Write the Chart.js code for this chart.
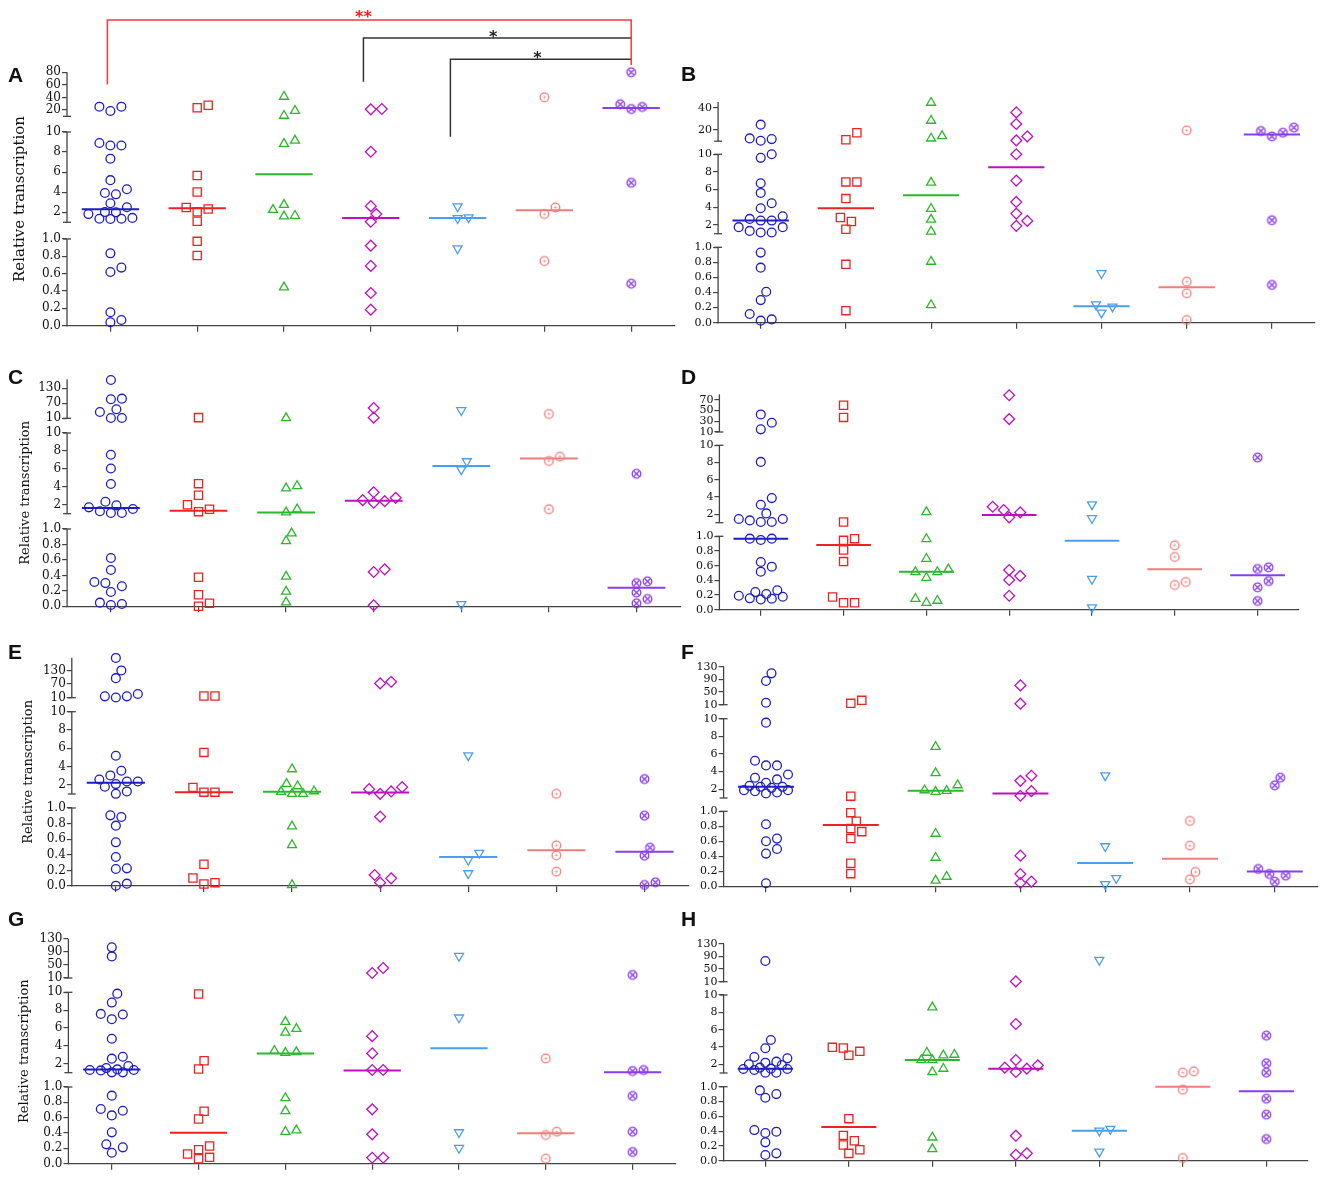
<!DOCTYPE html>
<html><head><meta charset="utf-8">
<script src="https://cdn.jsdelivr.net/npm/chart.js@4.4.0/dist/chart.umd.min.js"></script>
<style>
html,body{margin:0;padding:0;background:#fff;}
#wrap{position:relative;width:1325px;height:1177px;overflow:hidden;background:#fff;}
#wrap canvas{position:absolute;}
.lbl{position:absolute;font:bold 21px "Liberation Sans",Arial,sans-serif;line-height:21px;color:#111;}
</style></head><body><div id="wrap"></div>
<script>
// ---------- categories & tick labels ----------
const groups = ['Group 1','Group 2','Group 3','Group 4','Group 5','Group 6','Group 7'];
const bottomTicks = [0, 0.2, 0.4, 0.6, 0.8, 1.0];
const bottomTickLabels = ['0.0','0.2','0.4','0.6','0.8','1.0'];
const middleTicks = [2, 4, 6, 8, 10];
const middleTickLabels = ['2','4','6','8','10'];
const topTicksA = [20, 40, 60, 80];
const topTicksB = [20, 40];
const topTicksC = [10, 70, 130];
const topTicksD = [10, 30, 50, 70];
const topTicksE = [10, 70, 130];
const topTicksF = [10, 50, 90, 130];
const topTicksG = [10, 50, 90, 130];
const topTicksH = [10, 50, 90, 130];

// ---------- values (one list per group) and medians ----------
const valuesA = [
 [25.3,18.4,25.3,8.65,8.65,8.9,7.34,5.2,3.92,4.29,3.79,2.9,2.5,1.99,2.02,1.35,1.44,1.82,1.35,1.33,0.835,0.67,0.62,0.155,0.04,0.066],
 [23.7,27.5,5.67,4.02,2.48,2.32,2.05,1.1,0.973,0.81],
 [41.3,18.9,11,8.82,9.15,2.74,2.25,1.66,1.6,0.443],
 [21.6,21.1,8.03,2.61,1.82,1.06,0.923,0.69,0.377,0.185],
 [2.57,1.49,1.4,0.89],
 [40.3,2.48,1.82,0.746],
 [80,29.1,21.6,24.8,4.94,0.484]];
const medianA = [2.29,2.41,5.8,1.43,1.43,2.2,23.2];

const valuesB = [
 [24.8,11.9,10.4,12.5,9.6,10.0,6.72,5.62,4.45,3.89,2.98,2.49,2.49,2.68,1.74,1.74,1.32,1.13,1.13,0.93,0.73,0.41,0.30,0.115,0.027,0.044],
 [11.3,17.6,6.87,6.87,4.98,2.83,2.38,1.51,0.774,0.16],
 [44.5,28.4,14.6,12.5,6.8,3.83,2.6,1.25,0.81,0.235],
 [35.8,25.4,14.3,10.7,10.0,7.02,4.6,3.28,2.45,1.89],
 [0.655,0.243,0.212,0.133],
 [19.7,0.544,0.39,0.035],
 [19.1,14.3,17.6,22.1,2.53,0.5]];
const medianB = [2.49,3.89,5.36,8.53,0.217,0.47,16.1];

const valuesC = [
 [163,86,88.7,46,35.3,11,11,7.58,6.04,4.31,2.33,1.93,1.71,1.52,1.27,1.08,1.08,0.625,0.47,0.315,0.30,0.26,0.185,0.047,0.017,0.03],
 [12.7,4.35,3.06,2.0,1.49,1.23,0.375,0.15,0.04,0.0],
 [11,3.83,4.09,1.49,1.16,0.944,0.845,0.384,0.19,0.052],
 [51.3,12.7,3.39,2.51,2.22,2.40,2.77,0.478,0.444,0.013],
 [42,6.84,5.93,0.026],
 [27.3,7.36,6.88,1.49],
 [5.45,0.323,0.30,0.177,0.095,0.039]];
const medianC = [1.63,1.34,1.12,2.44,6.33,7.17,0.241];

const valuesD = [
 [42.6,27.2,14.9,8.07,3.86,3.09,2.08,1.43,1.08,1.08,1.27,1.43,0.968,0.95,0.968,0.65,0.586,0.518,0.24,0.214,0.264,0.19,0.155,0.14,0.15,0.177],
 [59.8,37.1,1.08,0.968,0.945,0.814,0.655,0.173,0.095,0.095],
 [2.24,0.964,0.695,0.55,0.514,0.514,0.436,0.15,0.095,0.123],
 [78.3,34,2.86,2.47,2.2,1.62,0.54,0.46,0.405,0.19],
 [3.13,1.51,0.418,0.03],
 [0.877,0.718,0.336,0.377],
 [8.57,0.555,0.577,0.39,0.305,0.118]];
const medianD = [0.968,0.882,0.518,1.89,0.94,0.55,0.468];

const valuesE = [
 [185,130,96,15.9,11,15.9,26.1,5.18,3.54,2.59,2.37,2.37,2.08,3.03,1.79,1.28,1.02,0.906,0.885,0.774,0.56,0.372,0.226,0.218,0.004,0.03],
 [17.3,17.3,5.55,1.72,1.2,1.2,0.278,0.103,0.026,0.043],
 [3.72,2.12,1.86,1.31,1.02,1.02,1.24,0.765,0.526,0.013],
 [80,73,1.53,1.02,1.28,1.75,0.889,0.141,0.043,0.098],
 [5.22,0.423,0.333,0.162],
 [1.02,0.521,0.393,0.184],
 [2.63,0.902,0.491,0.389,0.013,0.047]];
const medianE = [2.23,1.2,1.24,1.17,0.372,0.457,0.44];

const valuesF = [
 [109,85,16.3,9.55,5.23,4.7,4.7,3.67,3.3,3.11,2.73,2.38,2.27,2.15,2.27,1.89,1.78,1.52,1.63,1.89,0.827,0.636,0.6,0.498,0.436,0.04],
 [14.2,23.7,1.21,0.982,0.867,0.769,0.729,0.636,0.307,0.169],
 [6.82,3.83,2.46,1.82,1.7,1.89,0.702,0.382,0.076,0.129],
 [71,13.2,3.52,2.95,1.78,1.25,0.409,0.164,0.044,0.062],
 [3.56,0.533,0.107,0.027],
 [0.871,0.542,0.191,0.093],
 [3.3,2.43,0.231,0.164,0.142,0.062]];
const medianF = [2.27,0.818,1.82,1.52,0.311,0.369,0.196];

const valuesG = [
 [103.6,76,9.85,8.85,7.51,7.58,6.99,4.8,2.78,2.57,1.74,1.3,1.3,1.52,1.37,1.26,1.04,1.04,0.887,0.713,0.691,0.63,0.409,0.252,0.213,0.143],
 [9.81,2.33,1.41,0.683,0.583,0.23,0.126,0.183,0.065,0.083],
 [6.69,5.91,5.5,3.31,3.23,3.46,0.857,0.687,0.417,0.435],
 [25.3,40.5,5.09,3.16,1.3,1.3,0.709,0.383,0.078,0.078],
 [77,7.17,0.409,0.204],
 [2.6,0.417,0.374,0.065],
 [19.2,1.3,1.19,0.883,0.417,0.152]];
const medianG = [1.37,0.404,3.16,1.26,3.75,0.396,1.04];

const valuesH = [
 [75.3,4.81,3.85,2.85,2.69,2.31,2.0,2.19,1.92,1.46,1.35,1.62,1.5,1.46,1.04,1.04,0.95,0.9,0.851,0.414,0.392,0.374,0.248,0.077,0.099],
 [3.96,3.5,3.04,3.88,0.568,0.342,0.27,0.212,0.149,0.099],
 [8.58,3.12,2.5,2.5,3.04,3.35,1.12,1.5,0.315,0.158],
 [11,6.65,2.5,1.62,1.5,1.88,1.12,0.338,0.081,0.099],
 [78.4,0.428,0.405,0.122],
 [1.04,1.19,0.959,0.036],
 [5.31,2.12,1.04,0.838,0.622,0.293]];
const medianH = [1.5,0.455,2.5,1.5,0.405,1.0,0.937];

// ---------- layout (positions / styles) ----------
const PANELS = [
 {id:'A', vals:valuesA, med:medianA, top:topTicksA, topMax:80,  L:67,    d:86.8, px:[325.7,239,222.3,132,116.3,72.3],   cx:0,   title:{size:15,x:20},   letter:[8,63.7]},
 {id:'B', vals:valuesB, med:medianB, top:topTicksB, topMax:45,  L:718.1, d:85.2, px:[322.7,247.3,233.7,154.3,141.2,102.1], cx:660, title:null, letter:[681,62.7]},
 {id:'C', vals:valuesC, med:medianC, top:topTicksC, topMax:166, L:67.1,  d:87.6, px:[606.3,529,513.7,433,418.3,379.3],  cx:0,   title:{size:13,x:25.6}, letter:[8,366.4]},
 {id:'D', vals:valuesD, med:medianD, top:topTicksD, topMax:80,  L:719.4, d:82.8, px:[609.7,536.3,522.7,445.3,432,394.3], cx:660, title:null, letter:[681,366.4]},
 {id:'E', vals:valuesE, med:medianE, top:topTicksE, topMax:186, L:71.8,  d:88.1, px:[886,808,794,711.7,697.7,657.7],    cx:0,   title:{size:13,x:29},   letter:[8,641.4]},
 {id:'F', vals:valuesF, med:medianF, top:topTicksF, topMax:130, L:723.6, d:84.8, px:[886.3,811.3,798,718.7,704.7,666.7], cx:660, title:null, letter:[681,640.7]},
 {id:'G', vals:valuesG, med:medianG, top:topTicksG, topMax:130, L:68.4,  d:86.8, px:[1163.7,1087,1072.7,992.3,978,938.7], cx:0, title:{size:13,x:24.8}, letter:[8,907.7]},
 {id:'H', vals:valuesH, med:medianH, top:topTicksH, topMax:130, L:723.6, d:83.5, px:[1160.7,1086.7,1073,995,981.7,943.7], cx:660, title:null, letter:[681,907.7]},
];
const STYLES = [
 {color:'#1c1cc8', style:'circle',  r:4.4},
 {color:'#ee2222', style:'rect',    r:5.8},
 {color:'#2cb82c', style:'triangle',r:5.2},
 {color:'#bf10bf', style:'rectRot', r:5.4},
 {color:'#4a9ef0', style:'triangle',r:5.2, rot:180},
 {color:'#f07c7c', style:'dot',     r:4.4},
 {color:'#8a3cf0', style:'cross',   r:4.4},
];

function markImg(kind, color) {
  const s = 13, c = document.createElement('canvas'); c.width = c.height = s;
  const x = c.getContext('2d'); x.strokeStyle = color; x.fillStyle = color; x.lineWidth = 1.3;
  x.beginPath(); x.arc(6.5, 6.5, 4.3, 0, 2 * Math.PI); x.stroke();
  if (kind === 'dot') { x.beginPath(); x.arc(6.5, 6.5, 1.1, 0, 2 * Math.PI); x.fill(); }
  else { const r = 3.0; x.beginPath(); x.moveTo(6.5 - r, 6.5 - r); x.lineTo(6.5 + r, 6.5 + r); x.moveTo(6.5 + r, 6.5 - r); x.lineTo(6.5 - r, 6.5 + r); x.stroke(); }
  return c;
}

// ---------- broken (segmented) y scale ----------
const SEG = {};
function buildSegs(p) {
  const B = p.px[0], T = p.px[5], f = v => (B - v) / (B - T);
  const topVals = p.top;
  return [
    {lo:0, hi:1, f0:0, f1:f(p.px[1]), vals:bottomTicks, labs:bottomTickLabels},
    {lo:1, hi:10, f0:f(p.px[2]), f1:f(p.px[3]), vals:middleTicks, labs:middleTickLabels},
    {lo:10, hi:p.topMax, f0:f(p.px[4]), f1:1, vals:topVals, labs:topVals.map(String)},
  ];
}
class BrokenScale extends Chart.LinearScale {
  static id = 'broken';
  static defaults = {};
  segs() { return SEG[this.chart.canvas.id]; }
  determineDataLimits() { this.min = 0; this.max = 1; }
  buildTicks() {
    const out = [];
    this.segs().forEach((s, si) => s.vals.forEach((v, k) => out.push({value: v, seg: si, lbl: s.labs[k]})));
    return out;
  }
  generateTickLabels(ticks) { ticks.forEach(t => { t.label = t.lbl; }); }
  decimalFor(v, si) {
    const segs = this.segs();
    if (si === undefined) { si = segs.findIndex(s => v <= s.hi); if (si < 0) si = segs.length - 1; }
    const s = segs[si];
    return s.f0 + (v - s.lo) / (s.hi - s.lo) * (s.f1 - s.f0);
  }
  getPixelForValue(v) { if (v === null || v === undefined || isNaN(v)) return NaN; return this.getPixelForDecimal(this.decimalFor(+v)); }
  getPixelForTick(i) { const t = this.ticks[i]; return t ? this.getPixelForDecimal(this.decimalFor(t.value, t.seg)) : null; }
  getValueForPixel(p) {
    const dec = this.getDecimalForPixel(p), segs = this.segs();
    for (let i = 0; i < segs.length; i++) {
      const s = segs[i];
      if (dec <= s.f1 || i === segs.length - 1) return s.lo + (dec - s.f0) / (s.f1 - s.f0) * (s.hi - s.lo);
    }
  }
}
Chart.register(BrokenScale);

const breakPlugin = {
  id: 'axisBreaks',
  afterDraw(chart) {
    const ys = chart.scales.y, segs = SEG[chart.canvas.id], ctx = chart.ctx, x = chart.chartArea.left;
    ctx.save(); ctx.strokeStyle = '#444'; ctx.lineWidth = 1.3;
    segs.forEach((s, i) => {
      const y0 = ys.getPixelForDecimal(s.f0), y1 = ys.getPixelForDecimal(s.f1);
      ctx.beginPath(); ctx.moveTo(x, y0 + (i === 0 ? 0.6 : 0)); ctx.lineTo(x, y1); ctx.stroke();
      const caps = [];
      if (i > 0) caps.push(y0);
      if (i < segs.length - 1) caps.push(y1);
      caps.forEach(y => { ctx.beginPath(); ctx.moveTo(x - 4, y); ctx.lineTo(x + 4, y); ctx.stroke(); });
    });
    ctx.restore();
  }
};

// significance brackets of panel A (pixel heights are layout)
const sigPlugin = {
  id: 'sig',
  afterDraw(chart) {
    const xs = chart.scales.x, ctx = chart.ctx, X = v => xs.getPixelForValue(v);
    ctx.save(); ctx.lineWidth = 1.5;
    ctx.strokeStyle = '#333';
    ctx.beginPath(); ctx.moveTo(X(2.915), 81.7); ctx.lineTo(X(2.915), 38); ctx.lineTo(X(6), 38); ctx.stroke();
    ctx.beginPath(); ctx.moveTo(X(3.917), 136.7); ctx.lineTo(X(3.917), 59.3); ctx.lineTo(X(6), 59.3); ctx.stroke();
    ctx.strokeStyle = '#f03c3c';
    ctx.beginPath(); ctx.moveTo(X(-0.035), 84.5); ctx.lineTo(X(-0.035), 20); ctx.lineTo(X(6), 20); ctx.lineTo(X(6), 65); ctx.stroke();
    ctx.font = 'bold 16px "DejaVu Sans"'; ctx.textAlign = 'center'; ctx.textBaseline = 'alphabetic';
    ctx.fillStyle = '#ee2222'; ctx.fillText('**', X(2.915), 12.7 + 9.4);
    ctx.fillStyle = '#222'; ctx.fillText('*', X(4.41), 32.7 + 9.4); ctx.fillText('*', X(4.92), 53.3 + 9.4);
    ctx.restore();
  }
};

// beeswarm placement of the points of each group (pixel spacing is layout)
function swarm(chart, vals, d) {
  const ys = chart.scales.y, stepPx = 5.5, thr = 9;
  const offs = [0, 1, -1, 2, -2, 3, -3, 4, -4];
  vals.forEach((arr, g) => {
    const order = arr.map((v, k) => ({k, py: ys.getPixelForValue(v)})).sort((a, b) => b.py - a.py);
    const placed = [], xs = new Array(arr.length);
    order.forEach(p => {
      let best = 0, bestD = -1, found = null;
      for (const o of offs) {
        const md = placed.reduce((m, q) => Math.min(m, Math.hypot((q.o - o) * stepPx, q.py - p.py)), Infinity);
        if (md >= thr) { found = o; break; }
        if (md > bestD + 0.01) { bestD = md; best = o; }
      }
      const o = found === null ? best : found;
      placed.push({o, py: p.py});
      xs[p.k] = g + o * stepPx / d;
    });
    chart.data.datasets[g].data = arr.map((v, k) => ({x: xs[k], y: v}));
  });
  chart.update('none');
}

const wrap = document.getElementById('wrap');
PANELS.forEach(p => {
  SEG['cv' + p.id] = buildSegs(p);
  const cw = p.cx === 0 ? 692 : 665;
  const top = p.id === 'A' ? 0 : Math.floor(p.px[5] - 22);
  const bottom = Math.ceil(p.px[0] + 14);
  const ch = bottom - top;
  const cv = document.createElement('canvas');
  cv.id = 'cv' + p.id; cv.width = cw; cv.height = ch;
  cv.style.left = p.cx + 'px'; cv.style.top = top + 'px'; cv.style.width = cw + 'px'; cv.style.height = ch + 'px';
  wrap.appendChild(cv);
  const lab = document.createElement('div'); lab.className = 'lbl'; lab.textContent = p.id;
  lab.style.left = p.letter[0] + 'px'; lab.style.top = p.letter[1] + 'px'; wrap.appendChild(lab);

  const W = p.L - p.cx;
  const padR = p.cx + cw - (p.L + 7 * p.d);
  const padT = p.px[5] - top;
  const padB = bottom - p.px[0] - 10;

  const pointSets = p.vals.map((arr, g) => {
    const st = STYLES[g];
    const ps = (st.style === 'dot' || st.style === 'cross') ? markImg(st.style, st.color) : st.style;
    return {type: 'scatter', label: groups[g], data: arr.map(v => ({x: g, y: v})),
      pointStyle: ps, pointRadius: st.r, pointRotation: st.rot || 0, pointBorderWidth: 1.3,
      pointBorderColor: st.color, pointBackgroundColor: 'rgba(0,0,0,0)', clip: false};
  });
  const medSets = p.med.map((m, g) => ({type: 'line', label: groups[g] + ' median',
    data: [{x: g - 0.33, y: m}, {x: g + 0.33, y: m}], borderColor: STYLES[g].color, borderWidth: 2,
    pointRadius: 0, fill: false, clip: false}));

  const yScale = {
    type: 'broken',
    ticks: {autoSkip: false, padding: 1, color: '#111', font: {family: 'DejaVu Serif', size: p.cx === 0 ? 12 : 11}},
    grid: {display: true, drawOnChartArea: false, drawTicks: true, tickLength: 5, color: '#444', lineWidth: 1.2},
    border: {display: false},
    afterFit: s => { s.width = W; }
  };
  if (p.title) {
    const lh = p.title.size * 1.2;
    yScale.title = {display: true, text: 'Relative transcription', color: '#111',
      font: {family: 'DejaVu Serif', size: p.title.size}, padding: {top: p.title.x - lh / 2, bottom: 0}};
  }

  const chart = new Chart(cv, {
    type: 'scatter',
    data: {datasets: [...pointSets, ...medSets]},
    options: {
      responsive: false, animation: false, events: [], devicePixelRatio: window.devicePixelRatio || 1,
      layout: {padding: {left: 0, right: padR, top: padT, bottom: padB}, autoPadding: false},
      plugins: {legend: {display: false}, tooltip: {enabled: false}, title: {display: false}},
      scales: {
        x: {type: 'linear', min: -0.5, max: 6.5,
          afterBuildTicks: s => { s.ticks = groups.map((_, i) => ({value: i})); },
          ticks: {display: false},
          grid: {display: true, drawOnChartArea: false, drawTicks: true, tickLength: 6, color: '#444', lineWidth: 1.2},
          border: {display: true, color: '#444', width: 1.3},
          afterFit: s => { s.height = 10; }},
        y: yScale
      }
    },
    plugins: p.id === 'A' ? [breakPlugin, sigPlugin] : [breakPlugin]
  });
  swarm(chart, p.vals, p.d);
});
</script></body></html>
